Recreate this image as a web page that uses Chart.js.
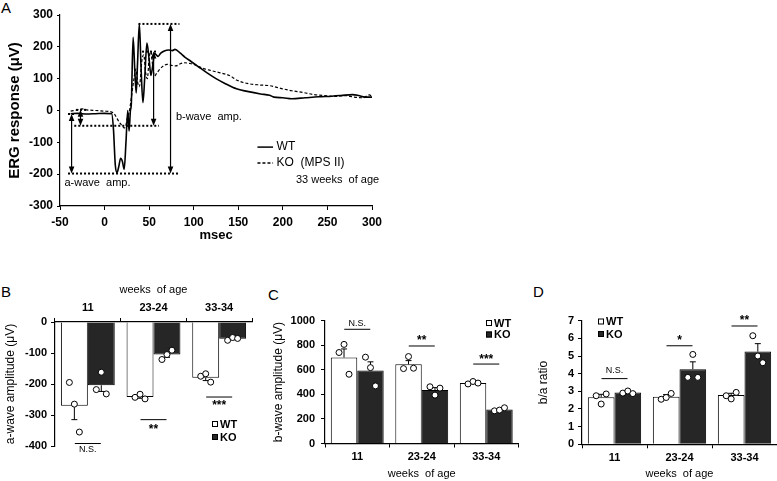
<!DOCTYPE html>
<html lang="en">
<head>
<meta charset="UTF-8">
<title>ERG in WT and KO (MPS II) mice</title>
<script src="https://cdn.jsdelivr.net/npm/chart.js@4"></script>
<style>
  html, body { margin: 0; padding: 0; background: #fff; }
  body { width: 777px; height: 481px; position: relative; overflow: hidden;
         font-family: 'Liberation Sans', Arial, sans-serif; }
  canvas { position: absolute; }
  .tag { position: absolute; font-size: 15px; line-height: 1; color: #000; }
</style>
</head>
<body>
<div class="tag" style="left:1px;top:0px">A</div>
<div class="tag" style="left:1px;top:284px">B</div>
<div class="tag" style="left:268px;top:287px">C</div>
<div class="tag" style="left:533px;top:284px">D</div>

<canvas id="chartA" width="390" height="250" style="left:0;top:0"></canvas>
<canvas id="chartB" width="260" height="201" style="left:0;top:280px"></canvas>
<canvas id="chartC" width="264" height="181" style="left:258px;top:300px"></canvas>
<canvas id="chartD" width="257" height="181" style="left:520px;top:300px"></canvas>

<script>
// ---- Panel A: ERG trace, 33 weeks of age ----
const wtTime = [-38, -30, -20, -10, 0, 8, 10, 12, 14, 16, 18, 20, 22, 24, 26, 27.5, 29, 30, 32, 34, 35.5, 37, 39, 41, 43, 45, 47.5, 50, 52, 54, 56, 58, 60, 63, 67, 72, 76, 79, 85, 90, 97, 105, 115, 125, 135, 148, 160, 175, 185, 190, 200, 210, 225, 240, 255, 265, 278, 285, 292, 300];
const wtResp = [-10, -9, -11, -10, -9, -10, -60, -170, -195, -175, -150, -160, -185, -100, 0, -65, 0, 20, 230, 120, 55, 150, 272, 130, 25, 100, 212, 160, 110, 140, 180, 175, 170, 180, 187, 190, 188, 192, 180, 168, 154, 138, 118, 100, 85, 68, 60, 52, 48, 42, 40, 37, 40, 43, 45, 47, 50, 47, 42, 42];
const koTime = [-38, -30, -25, -20, -10, 0, 8, 12, 16, 20, 22, 24, 25, 28, 30, 33, 35, 37, 39, 42, 44, 46, 48, 50, 52, 54, 56, 58, 62, 66, 70, 75, 80, 85, 90, 95, 100, 110, 120, 130, 140, 148, 160, 175, 185, 200, 210, 222, 235, 250, 260, 270, 280, 290, 297, 300];
const koResp = [-2, 2, 5, 2, 0, -2, -5, -15, -35, -48, -55, -45, -30, 0, 40, 100, 130, 90, 75, 160, 175, 120, 100, 165, 185, 140, 108, 115, 130, 140, 145, 142, 140, 147, 150, 148, 145, 133, 125, 118, 110, 96, 85, 80, 78, 68, 62, 57, 50, 46, 44, 47, 42, 40, 49, 45];

// dotted reference lines (y level, x start, x end)
const dotY  = [272, 185, -48, -198, -11, 2];
const dotX1 = [38, 42, -34, -41, -41, -32];
const dotX2 = [84, 60, 61, 84, -34, -20];
// double-headed arrows (x, from y, to y)
const arrowX    = [-37, -27, 55, 74];
const arrowFrom = [-11, 2, 185, 272];
const arrowTo   = [-198, -48, -48, -198];

// ---- Panels B-D: group means, SEM, individual animals ----
const ageGroups = ['11', '23-24', '33-34'];

const aWaveWT = [-270, -242, -180];
const aWaveKO = [-204, -105, -54];
const aWaveWTsem = [45, 4, 9];
const aWaveKOsem = [20, 9, 3];
const aWaveWTdots = [[-195, -265, -355], [-243, -233, -248], [-175, -167, -194]];
const aWaveKOdots = [[-218, -162, -232], [-121, -105, -91], [-59, -50, -53]];
const aWaveSig = ['N.S.', '**', '***'];
const aWaveSigLine = [-392, -315, -242];
const aWaveSigText = [-412, -340, -264];

const bWaveWT = [700, 645, 493];
const bWaveKO = [595, 435, 277];
const bWaveWTsem = [70, 30, 8];
const bWaveKOsem = [70, 20, 8];
const bWaveWTdots = [[741, 807, 564], [610, 708, 613], [485, 505, 492]];
const bWaveKOdots = [[703, 618, 469], [462, 394, 451], [266, 272, 291]];
const bWaveSig = ['N.S.', '**', '***'];
const bWaveSigLine = [930, 794, 647];
const bWaveSigText = [980, 850, 695];

const ratioWT = [2.66, 2.70, 2.79];
const ratioKO = [2.94, 4.25, 5.25];
const ratioWTsem = [0.17, 0.12, 0.1];
const ratioKOsem = [0.05, 0.42, 0.45];
const ratioWTdots = [[2.75, 2.28, 2.85], [2.55, 2.65, 2.88], [2.75, 2.57, 2.94]];
const ratioKOdots = [[2.9, 3.02, 2.87], [3.79, 5.09, 3.79], [6.15, 5.0, 4.62]];
const ratioSig = ['N.S.', '*', '**'];
const ratioSigLine = [3.72, 5.58, 6.7];
const ratioSigText = [4.17, 6.0, 7.09];

// ---------------------------------------------------------------
const FONT = "'Liberation Sans', Arial, sans-serif";
Chart.defaults.font.family = FONT;
Chart.defaults.color = '#000';
Chart.defaults.animation = false;

function arrowHead(ctx, x, tipY, dir) {
  // dir = +1 points down, -1 points up
  ctx.beginPath();
  ctx.moveTo(x, tipY);
  ctx.lineTo(x - 2.8, tipY - dir * 7);
  ctx.lineTo(x + 2.8, tipY - dir * 7);
  ctx.closePath();
  ctx.fill();
}

const ergMarks = {
  id: 'ergMarks',
  afterDatasetsDraw(chart, args, opts) {
    const { ctx, scales: { x, y } } = chart;
    ctx.save();
    ctx.strokeStyle = '#000';
    ctx.fillStyle = '#000';
    ctx.lineWidth = 1.2;
    arrowX.forEach((ax, i) => {
      const px = x.getPixelForValue(ax);
      const p1 = y.getPixelForValue(arrowFrom[i]);
      const p2 = y.getPixelForValue(arrowTo[i]);
      ctx.beginPath();
      ctx.moveTo(px, p1 + 5);
      ctx.lineTo(px, p2 - 5);
      ctx.stroke();
      arrowHead(ctx, px, p1, -1);
      arrowHead(ctx, px, p2, 1);
    });
    // legend
    opts.legend.forEach(l => {
      const ly = y.getPixelForValue(l.y);
      ctx.beginPath();
      ctx.setLineDash(l.dash);
      ctx.lineWidth = 1.5;
      ctx.moveTo(x.getPixelForValue(l.x1), ly);
      ctx.lineTo(x.getPixelForValue(l.x2), ly);
      ctx.stroke();
      ctx.setLineDash([]);
    });
    ctx.textBaseline = 'middle';
    opts.texts.forEach(t => {
      ctx.font = t.font;
      ctx.textAlign = t.align;
      ctx.fillText(t.text, x.getPixelForValue(t.x), y.getPixelForValue(t.y));
    });
    ctx.restore();
  }
};

const ergSets = [
  { label: 'WT', data: wtTime.map((t, i) => ({ x: t, y: wtResp[i] })),
    borderColor: '#000', borderWidth: 1.6, cubicInterpolationMode: 'monotone' },
  { label: 'KO (MPS II)', data: koTime.map((t, i) => ({ x: t, y: koResp[i] })),
    borderColor: '#000', borderWidth: 1.2, borderDash: [3, 2], cubicInterpolationMode: 'monotone' }
];
dotY.forEach((v, i) => {
  ergSets.push({
    data: [{ x: dotX1[i], y: v }, { x: dotX2[i], y: v }],
    borderColor: '#000', borderWidth: 2, borderDash: [2, 2]
  });
});

new Chart(document.getElementById('chartA'), {
  type: 'line',
  data: { datasets: ergSets },
  options: {
    responsive: false,
    elements: { point: { radius: 0 } },
    layout: { padding: { left: 0, right: 18, top: 15, bottom: 0 } },
    plugins: {
      legend: { display: false },
      tooltip: { enabled: false },
      ergMarks: {
        legend: [
          { x1: 171.5, x2: 189, y: -115, dash: [] },
          { x1: 171.5, x2: 189, y: -165, dash: [3, 2] }
        ],
        texts: [
          { text: 'WT', x: 193, y: -115, align: 'left', font: '12px ' + FONT },
          { text: 'KO  (MPS II)', x: 193, y: -165, align: 'left', font: '12px ' + FONT },
          { text: '33 weeks  of age', x: 308, y: -219, align: 'right', font: '11px ' + FONT },
          { text: 'b-wave  amp.', x: 80, y: -20, align: 'left', font: '11px ' + FONT },
          { text: 'a-wave  amp.', x: -45, y: -228, align: 'left', font: '11px ' + FONT }
        ]
      }
    },
    scales: {
      x: {
        type: 'linear', min: -50, max: 300,
        ticks: { stepSize: 50, font: { size: 12, weight: 'bold' }, padding: 5 },
        grid: { drawOnChartArea: false, color: '#000', tickLength: 4 },
        border: { color: '#000', width: 1.2 },
        title: { display: true, text: 'msec', font: { size: 13, weight: 'bold' }, padding: { top: 0, bottom: 7 } },
        afterFit(s) { s.height = 44; }
      },
      y: {
        min: -300, max: 300,
        ticks: { stepSize: 100, font: { size: 12, weight: 'bold' }, padding: 4 },
        grid: { drawOnChartArea: false, color: '#000', tickLength: 3 },
        border: { color: '#000', width: 1.2 },
        title: { display: true, text: 'ERG response (\u03BCV)', font: { size: 15, weight: 'bold' }, padding: { top: 6, bottom: 0 } },
        afterFit(s) { s.width = 60; }
      }
    }
  },
  plugins: [ergMarks]
});

// ---- bar panels ----
const barExtras = {
  id: 'barExtras',
  afterDatasetsDraw(chart, args, o) {
    const { ctx } = chart;
    const y = chart.scales.y;
    const jitter = [-5, 0, 5];
    ctx.save();
    ctx.strokeStyle = '#000';
    ctx.lineWidth = 1;
    // error bars (away from zero)
    [0, 1].forEach(di => {
      chart.getDatasetMeta(di).data.forEach((bar, j) => {
        const mean = chart.data.datasets[di].data[j];
        const end = mean + Math.sign(mean) * o.sem[di][j];
        const p1 = y.getPixelForValue(mean), p2 = y.getPixelForValue(end);
        ctx.beginPath();
        ctx.moveTo(bar.x, p1);
        ctx.lineTo(bar.x, p2);
        ctx.moveTo(bar.x - 3, p2);
        ctx.lineTo(bar.x + 3, p2);
        ctx.stroke();
      });
    });
    // individual animals
    [0, 1].forEach(di => {
      chart.getDatasetMeta(di).data.forEach((bar, j) => {
        o.dots[di][j].forEach((v, k) => {
          ctx.beginPath();
          ctx.arc(bar.x + jitter[k], y.getPixelForValue(v), 3, 0, Math.PI * 2);
          ctx.fillStyle = '#fff';
          ctx.fill();
          ctx.stroke();
        });
      });
    });
    // significance
    const m0 = chart.getDatasetMeta(0).data, m1 = chart.getDatasetMeta(1).data;
    ctx.fillStyle = '#000';
    ctx.textAlign = 'center';
    ctx.textBaseline = 'middle';
    o.sig.forEach((s, j) => {
      const cx = (m0[j].x + m1[j].x) / 2;
      const ly = y.getPixelForValue(o.sigLine[j]);
      ctx.beginPath();
      ctx.moveTo(cx - 13, ly);
      ctx.lineTo(cx + 13, ly);
      ctx.stroke();
      ctx.font = s === 'N.S.' ? '9px ' + FONT : 'bold 12px ' + FONT;
      ctx.fillText(s, cx, y.getPixelForValue(o.sigText[j]) + (s === 'N.S.' ? 0 : 2));
    });
    // legend
    ctx.textAlign = 'left';
    ctx.font = 'bold 11px ' + FONT;
    ['WT', 'KO'].forEach((name, i) => {
      const lx = o.legend.x, ly = o.legend.y + i * o.legend.gap;
      ctx.fillStyle = i === 0 ? '#fff' : '#262626';
      ctx.fillRect(lx, ly - 3, 6, 6);
      ctx.strokeRect(lx + 0.5, ly - 2.5, 5, 5);
      ctx.fillStyle = '#000';
      ctx.fillText(name, lx + 8, ly + 0.5);
    });
    ctx.restore();
  }
};

function barChart(id, cfg) {
  return new Chart(document.getElementById(id), {
    type: 'bar',
    data: {
      labels: ageGroups,
      datasets: [
        { label: 'WT', data: cfg.wt, backgroundColor: '#fff', borderColor: '#000', borderWidth: 1 },
        { label: 'KO', data: cfg.ko, backgroundColor: '#262626', borderColor: '#000', borderWidth: 1 }
      ]
    },
    options: {
      responsive: false,
      categoryPercentage: 0.82,
      barPercentage: 1.0,
      layout: { padding: cfg.padding },
      plugins: {
        legend: { display: false },
        tooltip: { enabled: false },
        barExtras: {
          sem: [cfg.wtSem, cfg.koSem],
          dots: [cfg.wtDots, cfg.koDots],
          sig: cfg.sig, sigLine: cfg.sigLine, sigText: cfg.sigText,
          legend: cfg.legend
        }
      },
      scales: {
        x: {
          position: cfg.xPos,
          ticks: { font: { size: 11, weight: 'bold' }, padding: 3 },
          grid: { drawOnChartArea: false, color: '#000', tickLength: 4 },
          border: { color: '#000', width: 1.2 },
          title: { display: true, text: 'weeks  of age', font: { size: 11 }, padding: cfg.xTitlePad },
          afterFit(s) { s.height = cfg.xHeight; }
        },
        y: {
          min: cfg.min, max: cfg.max,
          ticks: { stepSize: cfg.step, font: { size: 11, weight: 'bold' }, padding: cfg.yTickPad,
                   callback: v => String(v) },
          grid: { drawOnChartArea: false, color: '#000', tickLength: 4 },
          border: { color: '#000', width: 1.2 },
          title: { display: true, text: cfg.yTitle, font: { size: 12 }, padding: { top: cfg.yTitlePad, bottom: 0 } },
          afterFit(s) { s.width = cfg.yWidth; }
        }
      }
    },
    plugins: [barExtras]
  });
}

barChart('chartB', {
  wt: aWaveWT, ko: aWaveKO, wtSem: aWaveWTsem, koSem: aWaveKOsem,
  wtDots: aWaveWTdots, koDots: aWaveKOdots,
  sig: aWaveSig, sigLine: aWaveSigLine, sigText: aWaveSigText,
  min: -400, max: 0, step: 100, yTitle: 'a-wave amplitude (\u03BCV)',
  xPos: 'top', xHeight: 42, xTitlePad: { top: 3, bottom: 0 },
  yWidth: 55, yTickPad: 4, yTitlePad: 3,
  padding: { left: 0, right: 8, top: 0, bottom: 35 },
  legend: { x: 212, y: 144, gap: 13 }
});

barChart('chartC', {
  wt: bWaveWT, ko: bWaveKO, wtSem: bWaveWTsem, koSem: bWaveKOsem,
  wtDots: bWaveWTdots, koDots: bWaveKOdots,
  sig: bWaveSig, sigLine: bWaveSigLine, sigText: bWaveSigText,
  min: 0, max: 1000, step: 200, yTitle: 'b-wave amplitude (\u03BCV)',
  xPos: 'bottom', xHeight: 37.5, xTitlePad: { top: 0, bottom: 0 },
  yWidth: 67, yTickPad: 6, yTitlePad: 13,
  padding: { left: 0, right: 3.5, top: 20.7, bottom: 0 },
  legend: { x: 228, y: 23, gap: 11.5 }
});

barChart('chartD', {
  wt: ratioWT, ko: ratioKO, wtSem: ratioWTsem, koSem: ratioKOsem,
  wtDots: ratioWTdots, koDots: ratioKOdots,
  sig: ratioSig, sigLine: ratioSigLine, sigText: ratioSigText,
  min: 0, max: 7, step: 1, yTitle: 'b/a ratio',
  xPos: 'bottom', xHeight: 36.7, xTitlePad: { top: 0, bottom: 0 },
  yWidth: 62, yTickPad: 4, yTitlePad: 16,
  padding: { left: 0, right: 0, top: 20.7, bottom: 0 },
  legend: { x: 78, y: 21.5, gap: 12.5 }
});
</script>
</body>
</html>
